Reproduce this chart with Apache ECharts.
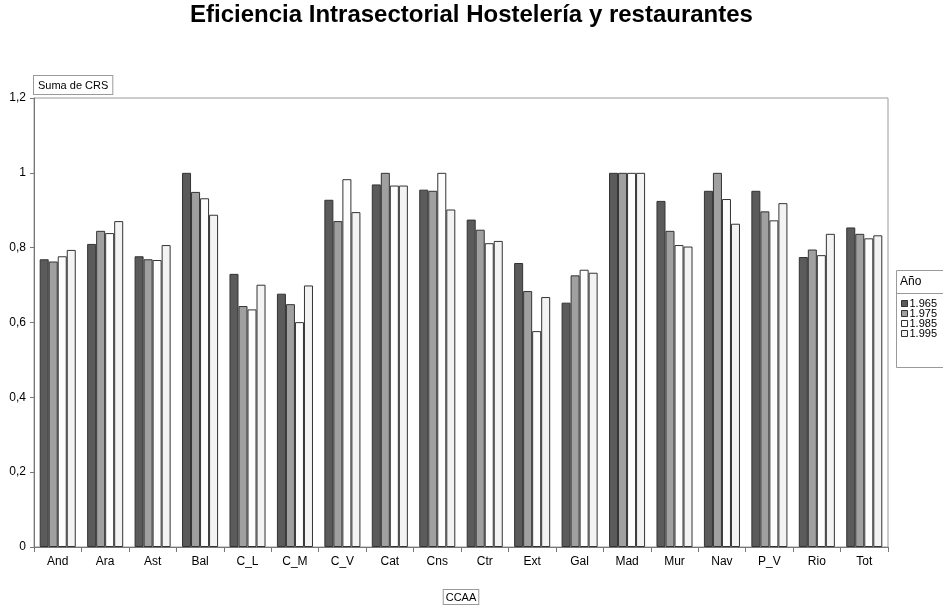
<!DOCTYPE html>
<html>
<head>
<meta charset="utf-8">
<script src="https://cdn.jsdelivr.net/npm/echarts@6/dist/echarts.min.js"></script>
<style>html,body{margin:0;padding:0;background:#fff}#c{width:943px;height:607px}</style>
</head>
<body>
<div id="c"></div>
<script>
const categories = ['And','Ara','Ast','Bal','C_L','C_M','C_V','Cat','Cns','Ctr','Ext','Gal','Mad','Mur','Nav','P_V','Rio','Tot'];
const seriesNames = ['1.965','1.975','1.985','1.995'];
const v1965 = [0.769,0.810,0.777,1.000,0.730,0.677,0.928,0.969,0.955,0.875,0.759,0.653,1.000,0.925,0.952,0.952,0.775,0.854];
const v1975 = [0.763,0.845,0.769,0.949,0.644,0.649,0.871,1.000,0.952,0.848,0.684,0.726,1.000,0.845,1.000,0.897,0.795,0.837];
const v1985 = [0.777,0.839,0.767,0.932,0.635,0.601,0.983,0.966,1.000,0.812,0.577,0.741,1.000,0.807,0.930,0.873,0.780,0.825];
const v1995 = [0.794,0.871,0.807,0.888,0.701,0.699,0.895,0.966,0.902,0.818,0.668,0.733,1.000,0.803,0.864,0.919,0.837,0.833];
const yTicks = [0, 0.2, 0.4, 0.6, 0.8, 1, 1.2];

const values = [v1965, v1975, v1985, v1995];
const fills = ['#5b5b5b', '#a0a0a0', '#fdfdfd', '#f3f3f3'];
const font = 'Liberation Sans, Arial, sans-serif';

const chart = echarts.init(document.getElementById('c'), null, {renderer: 'canvas'});
chart.setOption({
  animation: false,
  backgroundColor: '#fff',
  title: {
    text: 'Eficiencia Intrasectorial Hostelería y restaurantes',
    left: 'center', top: 3, padding: 0,
    textStyle: {fontFamily: font, fontSize: 24, fontWeight: 'bold', color: '#000'}
  },
  grid: {left: 34, right: 55, top: 98, bottom: 60, show: true, borderColor: '#9a9a9a', borderWidth: 1, backgroundColor: '#fff', outerBoundsMode: 'none', containLabel: false},
  legend: {
    orient: 'vertical', left: 901, top: 298,
    itemWidth: 6, itemHeight: 6, itemGap: -1,
    padding: 0,
    icon: 'rect',
    textStyle: {fontFamily: font, fontSize: 11, lineHeight: 10.5, color: '#000', padding: [0,0,0,-3]},
    itemStyle: {borderColor: '#333', borderWidth: 1},
    data: seriesNames
  },
  graphic: [
    {type: 'rect', shape: {x: 896.5, y: 270.5, width: 50, height: 97}, style: {fill: '#fff', stroke: '#9a9a9a', lineWidth: 1}, z: 0},
    {type: 'line', shape: {x1: 896.5, y1: 293.5, x2: 943, y2: 293.5}, style: {stroke: '#9a9a9a', lineWidth: 1}, z: 1},
    {type: 'text', left: 900, top: 276, style: {text: 'Año', fontFamily: font, fontSize: 12, fill: '#000'}, z: 2}
  ],
  xAxis: {
    type: 'category', data: categories,
    name: 'CCAA', nameLocation: 'middle', nameGap: 43,
    nameTextStyle: {fontFamily: font, fontSize: 11, color: '#000', borderColor: '#9a9a9a', borderWidth: 1, padding: [2,2,1,2], backgroundColor: '#fff'},
    axisLine: {lineStyle: {color: '#777'}},
    axisTick: {show: true, alignWithLabel: false, length: 5, lineStyle: {color: '#777'}},
    axisLabel: {fontFamily: font, fontSize: 12, color: '#000', margin: 9, interval: 0}
  },
  yAxis: {
    type: 'value', min: 0, max: 1.2, interval: 0.2,
    name: 'Suma de CRS', nameLocation: 'end', nameGap: 4,
    nameTextStyle: {fontFamily: font, fontSize: 11, color: '#000', align: 'left', verticalAlign: 'bottom', borderColor: '#9a9a9a', borderWidth: 1, padding: [4,4,3,4], backgroundColor: '#fff'},
    axisLine: {show: true, lineStyle: {color: '#777'}},
    axisTick: {show: true, length: 4, lineStyle: {color: '#777'}},
    splitLine: {show: false},
    axisLabel: {
      fontFamily: font, fontSize: 12, color: '#000', margin: 8,
      formatter: function (v) {
        const t = yTicks.find(x => Math.abs(x - v) < 1e-9);
        return String(Math.round((t !== undefined ? t : v) * 10) / 10).replace('.', ',');
      }
    }
  },
  series: seriesNames.map((n, i) => ({
    name: n, type: 'bar', data: values[i],
    barGap: '0%', barCategoryGap: '24%',
    itemStyle: {color: fills[i], borderColor: '#333', borderWidth: 1}
  }))
});
</script>
</body>
</html>
